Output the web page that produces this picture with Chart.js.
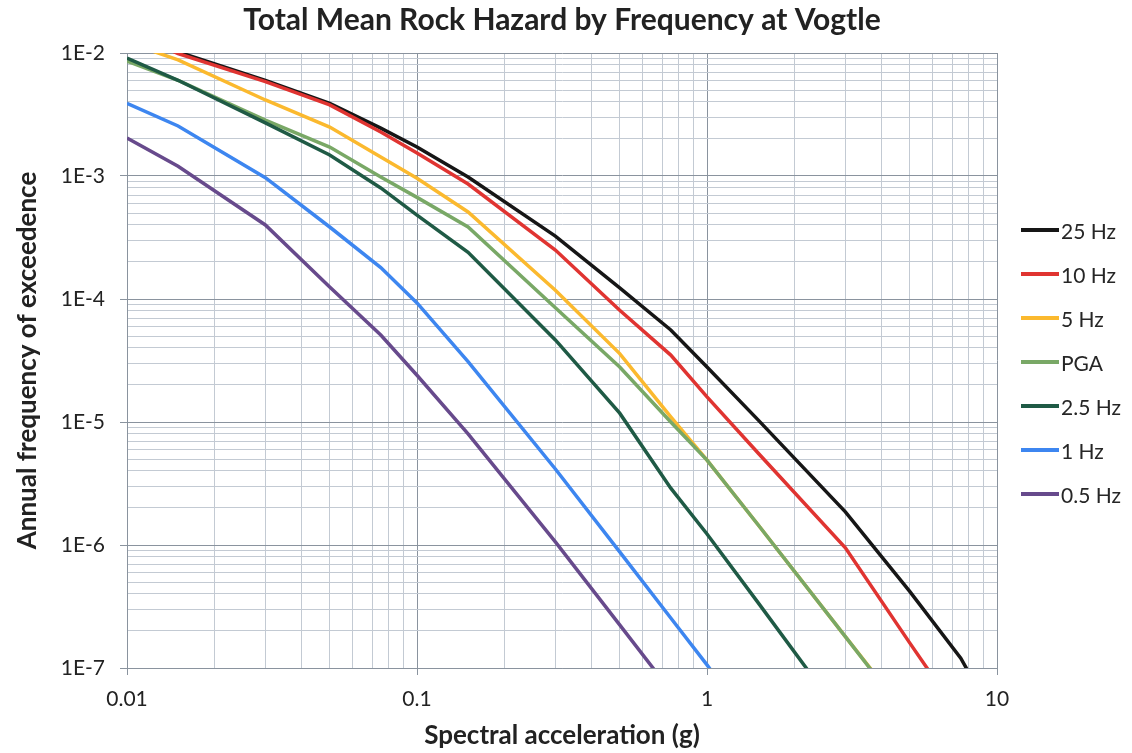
<!DOCTYPE html>
<html>
<head>
<meta charset="utf-8">
<script src="https://cdn.jsdelivr.net/npm/chart.js@4.4.1/dist/chart.umd.min.js"></script>
<style>
  html, body { margin: 0; padding: 0; background: #fff; }
  #wrap { position: relative; width: 1132px; height: 753px; }
  #legend { position: absolute; left: 1021px; top: 208px; font-family: Lato, sans-serif; font-size: 21px; color: #262626; }
  .item { display: flex; align-items: center; height: 44px; }
  .swatch { width: 38px; height: 4px; margin-right: 2px; }
</style>
</head>
<body>
<div id="wrap">
  <canvas id="hazard"></canvas>
  <div id="legend"></div>
</div>
<script>
// spectral acceleration (g)
const accel = [0.01, 0.015, 0.03, 0.05, 0.075, 0.1, 0.15, 0.3, 0.5, 0.75, 1, 1.5, 3, 5, 7.5, 10];

// annual frequency of exceedence per frequency
const hz25  = [1.55e-2, 1.02e-2, 6.0e-3, 3.9e-3, 2.45e-3, 1.72e-3, 9.8e-4, 3.25e-4, 1.23e-4, 5.6e-5, 2.8e-5, 1.04e-5, 1.86e-6, 4.2e-7, 1.2e-7, 3.6e-8];
const hz10  = [1.5e-2, 9.9e-3, 5.85e-3, 3.78e-3, 2.28e-3, 1.54e-3, 8.6e-4, 2.5e-4, 8.1e-5, 3.5e-5, 1.6e-5, 5.6e-6, 9.5e-7, 1.6e-7, 4e-8, 1.2e-8];
const hz5   = [1.22e-2, 8.8e-3, 4.15e-3, 2.5e-3, 1.43e-3, 9.6e-4, 5.1e-4, 1.18e-4, 3.6e-5, 1.1e-5, 4.9e-6, 1.46e-6, 1.8e-7, 3.9e-8, 1.2e-8, 5e-9];
const pga   = [8.6e-3, 6.0e-3, 2.85e-3, 1.72e-3, 9.8e-4, 6.7e-4, 3.85e-4, 8.5e-5, 2.8e-5, 1.0e-5, 4.9e-6, 1.46e-6, 1.8e-7, 3.8e-8, 1.1e-8, 4e-9];
const hz2_5 = [9.1e-3, 6.0e-3, 2.7e-3, 1.48e-3, 8.0e-4, 4.8e-4, 2.4e-4, 4.65e-5, 1.18e-5, 2.9e-6, 1.23e-6, 3.4e-7, 3.7e-8, 6e-9, 1.5e-9, 6e-10];
const hz1   = [3.9e-3, 2.55e-3, 9.7e-4, 3.85e-4, 1.8e-4, 9.3e-5, 3.1e-5, 4.15e-6, 8.8e-7, 2.55e-7, 1.06e-7, 2.9e-8, 2e-9, 2e-10, 3e-11, 8e-12];
const hz0_5 = [2.04e-3, 1.2e-3, 4.0e-4, 1.25e-4, 5.1e-5, 2.4e-5, 8.0e-6, 1.06e-6, 2.24e-7, 6.5e-8, 2.7e-8, 6e-9, 5e-10, 5e-11, 8e-12, 2e-12];

const seriesNames  = ["25 Hz", "10 Hz", "5 Hz", "PGA", "2.5 Hz", "1 Hz", "0.5 Hz"];
const seriesValues = [hz25, hz10, hz5, pga, hz2_5, hz1, hz0_5];
const seriesColors = ["#161616", "#e03431", "#fbb92e", "#79a866", "#1f5a45", "#3d86f0", "#674a8c"];

const xTickValues = [0.01, 0.1, 1, 10];
const xTickLabels = ["0.01", "0.1", "1", "10"];
const yTickValues = [1e-7, 1e-6, 1e-5, 1e-4, 1e-3, 1e-2];
const yTickLabels = ["1E-7", "1E-6", "1E-5", "1E-4", "1E-3", "1E-2"];

const MAJOR = "#8a939e";
const MINOR = "#c3cad3";
const FONT = "Lato, 'Open Sans', sans-serif";

function majorIndex(v, majors) {
    return majors.findIndex(m => Math.abs(Math.log10(v) - Math.log10(m)) < 1e-6);
}

// 1..9 per decade, for the grid
function decadeTicks(majors) {
    const out = [];
    for (let i = 0; i < majors.length - 1; i++) {
        for (let k = 1; k < 10; k++) out.push({ value: majors[i] * k });
    }
    out.push({ value: majors[majors.length - 1] });
    return out;
}

function axis(majors, labels) {
    return {
        type: "logarithmic",
        min: majors[0],
        max: majors[majors.length - 1],
        afterBuildTicks: scale => { scale.ticks = decadeTicks(majors); },
        ticks: {
            autoSkip: false,
            maxRotation: 0,
            color: "#222",
            font: { family: FONT, size: 21 },
            callback: v => {
                const i = majorIndex(v, majors);
                return i >= 0 ? labels[i] : "";
            }
        },
        grid: {
            color: ctx => majorIndex(ctx.tick.value, majors) >= 0 ? MAJOR : MINOR,
            tickColor: ctx => majorIndex(ctx.tick.value, majors) >= 0 ? MAJOR : "rgba(0,0,0,0)",
            tickLength: 7,
            lineWidth: 1
        },
        border: { color: MAJOR }
    };
}

const xAxis = axis(xTickValues, xTickLabels);
xAxis.ticks.padding = 12;
xAxis.title = {
    display: true,
    text: "Spectral acceleration (g)",
    color: "#222",
    font: { family: FONT, size: 26, weight: "bold" },
    padding: { top: 0, bottom: 0 }
};
xAxis.afterFit = scale => { scale.height = 83; };

const yAxis = axis(yTickValues, yTickLabels);
yAxis.ticks.padding = 15;
yAxis.title = {
    display: true,
    text: "Annual frequency of exceedence",
    color: "#222",
    font: { family: FONT, size: 26, weight: "bold" },
    padding: { top: 12, bottom: 0 }
};
yAxis.afterFit = scale => { scale.width = 127; };

const n = seriesNames.length;
const datasets = seriesNames.map((name, i) => ({
    label: name,
    data: accel.map((x, j) => ({ x, y: seriesValues[i][j] })),
    borderColor: seriesColors[i],
    backgroundColor: seriesColors[i],
    borderWidth: 3.5,
    pointRadius: 0,
    tension: 0,
    order: n - i   // later series on top, like the original
}));

new Chart(document.getElementById("hazard"), {
    type: "line",
    data: { datasets },
    options: {
        responsive: true,
        maintainAspectRatio: false,
        animation: false,
        layout: { padding: { left: 0, right: 135, top: 0, bottom: 2 } },
        plugins: {
            legend: { display: false },
            tooltip: { enabled: false },
            title: {
                display: true,
                fullSize: false,
                text: "Total Mean Rock Hazard by Frequency at Vogtle",
                color: "#222",
                font: { family: FONT, size: 30, weight: "bold" },
                padding: { top: 2, bottom: 15 }
            }
        },
        scales: { x: xAxis, y: yAxis }
    }
});

// legend in original order
const legend = document.getElementById("legend");
seriesNames.forEach((name, i) => {
    const row = document.createElement("div");
    row.className = "item";
    const sw = document.createElement("span");
    sw.className = "swatch";
    sw.style.background = seriesColors[i];
    const txt = document.createElement("span");
    txt.textContent = name;
    row.appendChild(sw);
    row.appendChild(txt);
    legend.appendChild(row);
});
</script>
</body>
</html>
